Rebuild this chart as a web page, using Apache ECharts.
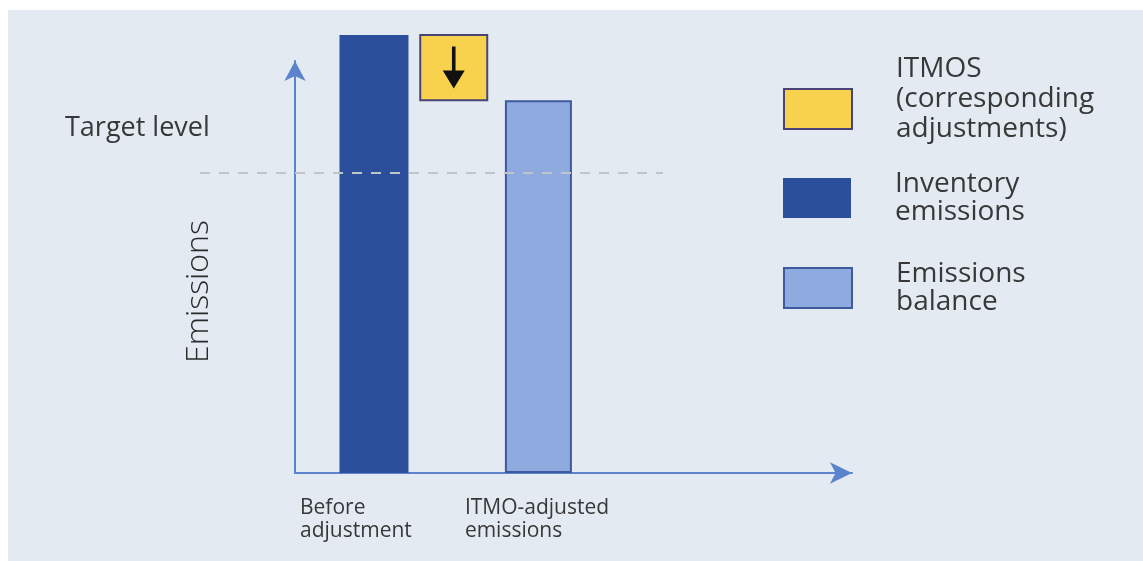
<!DOCTYPE html>
<html>
<head>
<meta charset="utf-8">
<script src="https://cdn.jsdelivr.net/npm/echarts@6/dist/echarts.min.js"></script>
<style>
  html, body { margin: 0; padding: 0; background: #ffffff; }
  #panel { position: absolute; left: 8px; top: 10px; width: 1135px; height: 551px; background: #e3eaf2; }
  #chart { position: absolute; left: 0; top: 0; width: 1143px; height: 561px; }
</style>
</head>
<body>
<div id="panel"></div>
<div id="chart"></div>
<script>
// ---- data ----
const categories = ['Before\nadjustment', 'ITMO-adjusted\nemissions'];
const categoryLabelPos = [0.9, 30.5];       // x positions where category labels start
const barPos = [14.0, 43.7];                // x positions of the two bars
const inventoryEmissions = 106.3;           // bar 1 (before adjustment)
const emissionsBalance = 90.5;              // bar 2 (ITMO-adjusted)
const itmoPos = 28.5;                       // x position of ITMO block (corresponding adjustment)
const targetLevel = 72.8;
const targetLineX = [0, 1];
const legendNames = ['ITMOS\n(corresponding\nadjustments)', 'Inventory\nemissions', 'Emissions\nbalance'];

const FONT = '"Open Sans", "Noto Sans", sans-serif';
const TEXT = '#383838';
const AXIS = '#5b84cc';
const YELLOW = '#f8d24c', YELLOW_BORDER = '#4a4378';
const DARK = '#2c4f9c';
const LIGHT = '#8eaadf', LIGHT_BORDER = '#3d5a9e';

const chart = echarts.init(document.getElementById('chart'), null, { renderer: 'canvas' });

const legendText = { fontFamily: FONT, fontSize: 28, lineHeight: 28, color: TEXT, padding: [0, 0, 0, 39] };
const legendCommon = {
  orient: 'vertical', left: 783, padding: 0, icon: 'rect',
  itemWidth: 68, itemHeight: 40, selectedMode: false, textStyle: legendText
};

chart.setOption({
  backgroundColor: 'transparent',
  animation: false,
  grid: [
    { left: 295, right: 291, top: 61, bottom: 88 },
    { left: 200, right: 480, top: 61, bottom: 88 }
  ],
  xAxis: [{
    type: 'value', min: 0, max: 100, gridIndex: 0,
    splitLine: { show: false },
    axisTick: { show: false },
    axisLine: { show: true, lineStyle: { color: AXIS, width: 2 }, symbol: ['none', 'arrow'], symbolSize: [16, 22] },
    axisLabel: {
      customValues: categoryLabelPos,
      formatter: function (v) {
        const k = categoryLabelPos.indexOf(v);
        return k >= 0 ? categories[k] : '';
      },
      align: 'left', verticalAlign: 'top', margin: 24,
      fontFamily: FONT, fontSize: 21, lineHeight: 23, color: TEXT
    }
  }, {
    type: 'value', min: 0, max: 1, gridIndex: 1, show: false
  }],
  yAxis: [{
    type: 'value', min: 0, max: 100, gridIndex: 0,
    name: 'Emissions', nameLocation: 'middle', nameRotate: 90, nameGap: 80,
    nameTextStyle: { fontFamily: FONT, fontSize: 32, fontWeight: 300, color: '#2a2a2a', padding: [0, 49, 0, 0] },
    splitLine: { show: false },
    axisTick: { show: false },
    axisLabel: { show: false },
    axisLine: { show: true, lineStyle: { color: AXIS, width: 2 }, symbol: ['none', 'arrow'], symbolSize: [16, 20] }
  }, {
    type: 'value', min: 0, max: 100, gridIndex: 1, show: false
  }],
  legend: [
    Object.assign({}, legendCommon, {
      top: 54,
      data: [{ name: legendNames[0], itemStyle: { color: YELLOW, borderColor: YELLOW_BORDER, borderWidth: 2 } }],
      formatter: function (name) {
        return name.split('\n').map(function (l) { return '{a|' + l + '}'; }).join('\n') + '\n{s| }';
      },
      textStyle: Object.assign({}, legendText, {
        rich: {
          a: { fontFamily: FONT, fontSize: 28, lineHeight: 30, color: TEXT },
          s: { fontFamily: FONT, fontSize: 10, lineHeight: 20, color: TEXT }
        }
      })
    }),
    Object.assign({}, legendCommon, { top: 170, data: [legendNames[1]] }),
    Object.assign({}, legendCommon, { top: 260, data: [legendNames[2]] })
  ],
  graphic: [
    { type: 'text', x: 65, y: 128, style: { text: 'Target level', font: '27px ' + FONT, fill: TEXT, verticalAlign: 'middle' } }
  ],
  series: [
    {
      name: legendNames[1], type: 'bar', barWidth: 69, barGap: '-100%', clip: false,
      itemStyle: { color: DARK },
      data: [[barPos[0], inventoryEmissions]]
    },
    {
      name: legendNames[2], type: 'bar', barWidth: 67, barGap: '-100%', clip: false,
      itemStyle: { color: LIGHT, borderColor: LIGHT_BORDER, borderWidth: 2 },
      data: [[barPos[1], emissionsBalance]]
    },
    {
      name: legendNames[0], type: 'custom', clip: false,
      itemStyle: { color: YELLOW, borderColor: YELLOW_BORDER, borderWidth: 2 },
      encode: { x: 0, y: [1, 2] },
      data: [[itmoPos, emissionsBalance, inventoryEmissions]],
      renderItem: function (params, api) {
        const x = api.value(0);
        const top = api.coord([x, api.value(2)]);
        const bottom = api.coord([x, api.value(1)]);
        const w = 67;
        const midY = (top[1] + bottom[1]) / 2;
        return {
          type: 'group',
          children: [
            { type: 'rect',
              shape: { x: top[0] - w / 2, y: top[1], width: w, height: bottom[1] - top[1] },
              style: { fill: YELLOW, stroke: YELLOW_BORDER, lineWidth: 2 } },
            { type: 'path',
              shape: { pathData: 'M9.2,0 L12.8,0 L12.8,24 L22,24 L11,42 L0,24 L9.2,24 Z',
                       x: top[0] - 11, y: midY - 21, width: 22, height: 42, layout: 'cover' },
              style: { fill: '#111111' } }
          ]
        };
      }
    },
    {
      name: 'target', type: 'line', xAxisIndex: 1, yAxisIndex: 1, symbol: 'none', silent: true, z: 5,
      lineStyle: { color: '#c0c5cc', width: 2, type: [10, 9] },
      data: [[targetLineX[0], targetLevel], [targetLineX[1], targetLevel]]
    }
  ]
});
</script>
</body>
</html>
